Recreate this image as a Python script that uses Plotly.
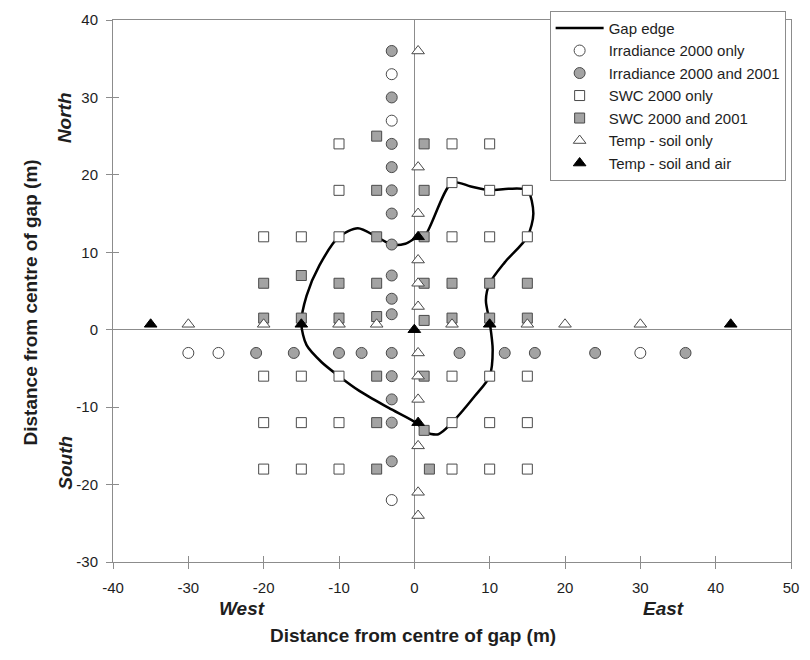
import plotly.graph_objects as go

# Gap edge outline (closed loop)
gap_x = [-15, -14.3, -12.6, -10, -7.5, -5, -3, -1.2, 0.5, 1.3, 5, 7.5, 10, 12.5, 15, 15.8,
         15, 12, 10, 9.5, 10, 10.4, 10, 8, 5, 3.2, 1.3, 0.5, -3.4, -7.3, -10, -12.3, -14.3, -15]
gap_y = [0.8, 4.4, 8.3, 12, 13.1, 12, 11, 11.1, 12, 12, 19, 18.5, 18, 18.2, 18, 15,
         12, 8.7, 6, 3.8, 1, -2.6, -6, -8.6, -12, -13.5, -13.2, -12.2, -10.1, -7.9, -6, -4.2, -2, 0.8]

# Irradiance sensors
irr_only_x = [-3, -3, -30, -26, 30, -3]
irr_only_y = [33, 27, -3, -3, -3, -22]
irr_both_x = [-3, -3, -3, -3, -3, -3, -3, -3, -3, -3,
              -21, -16, -10, -7, -3, 6, 12, 16, 24, 36,
              -3, -3, -3, -3]
irr_both_y = [36, 30, 24, 21, 18, 15, 11, 7, 4, 2,
              -3, -3, -3, -3, -3, -3, -3, -3, -3, -3,
              -6, -9, -12, -17]

# Soil water content sensors
swc_only_x = [-10, 5, 10,
              -10, 5, 10, 15,
              -20, -15, -10, 5, 10, 15,
              -20, -15, -10, 5, 10, 15,
              -20, -15, -10, 5, 10, 15,
              -20, -15, -10, 5, 10, 15]
swc_only_y = [24, 24, 24,
              18, 19, 18, 18,
              12, 12, 12, 12, 12, 12,
              -6, -6, -6, -6, -6, -6,
              -12, -12, -12, -12, -12, -12,
              -18, -18, -18, -18, -18, -18]
swc_both_x = [-5, 1.3,
              -5, 1.3,
              -5, 1.3,
              -15, -20, -10, -5, 1.3, 5, 10, 15,
              -20, -15, -10, -5, 1.3, 5, 10, 15,
              -5, 1.3,
              -5, 1.3,
              -5, 2]
swc_both_y = [25, 24,
              18, 18,
              12, 12,
              7, 6, 6, 6, 6, 6, 6, 6,
              1.5, 1.5, 1.5, 1.7, 1.2, 1.5, 1.5, 1.5,
              -6, -6,
              -12, -13,
              -18, -18]

# Temperature sensors
temp_soil_x = [-30, -20, -10, -5, 5, 15, 20, 30,
               0.5, 0.5, 0.5, 0.5, 0.5, 0.5, 0.5, 0.5, 0.5, 0.5, 0.5, 0.5]
temp_soil_y = [0.7, 0.7, 0.7, 0.7, 0.7, 0.7, 0.7, 0.7,
               36, 21, 15, 9, 6, 3, -3, -6, -9, -15, -21, -24]
temp_air_x = [-35, -15, 10, 42, 0, 0.5, 0.5]
temp_air_y = [0.7, 0.7, 0.7, 0.7, 0, 12, -12]

x_ticks = [-40, -30, -20, -10, 0, 10, 20, 30, 40, 50]
y_ticks = [-30, -20, -10, 0, 10, 20, 30, 40]
x_tick_text = [str(v) for v in x_ticks]
y_tick_text = [str(v) for v in y_ticks]

FONT = "Liberation Sans, Arial, sans-serif"
EDGE = "#4a4a4a"
GREY = "#a3a3a3"
AXIS = "#8c8c8c"
TXT = "#1e1e1e"

fig = go.Figure()

fig.add_trace(go.Scatter(x=gap_x, y=gap_y, mode="lines", name="Gap edge",
                         line=dict(color="black", width=2.5, shape="spline", smoothing=0.8)))

def marker_trace(x, y, name, symbol, fill, size):
    return go.Scatter(x=x, y=y, mode="markers", name=name,
                      marker=dict(symbol=symbol, size=size, color=fill,
                                  line=dict(color=EDGE if fill != "black" else "black", width=1)))

fig.add_trace(marker_trace(irr_only_x, irr_only_y, "Irradiance 2000 only", "circle", "white", 11))
fig.add_trace(marker_trace(irr_both_x, irr_both_y, "Irradiance 2000 and 2001", "circle", GREY, 11))
fig.add_trace(marker_trace(swc_only_x, swc_only_y, "SWC 2000 only", "square", "white", 10))
fig.add_trace(marker_trace(swc_both_x, swc_both_y, "SWC 2000 and 2001", "square", GREY, 10))
fig.add_trace(marker_trace(temp_soil_x, temp_soil_y, "Temp - soil only", "triangle-up", "white", 11))
fig.add_trace(marker_trace(temp_air_x, temp_air_y, "Temp - soil and air", "triangle-up", "black", 11))

# invisible trace carrying the inner half of the tick marks
fig.add_trace(go.Scatter(x=[0], y=[0], xaxis="x2", yaxis="y2", mode="markers",
                         marker=dict(opacity=0), showlegend=False, hoverinfo="skip"))

axis_common = dict(showgrid=False, zeroline=True, zerolinecolor=AXIS, zerolinewidth=1,
                   showline=True, linecolor=AXIS, linewidth=1, mirror=True,
                   ticks="outside", ticklen=6, tickcolor=AXIS, tickwidth=1,
                   tickfont=dict(family=FONT, size=15, color=TXT))

fig.update_layout(
    width=810, height=660,
    margin=dict(l=113, r=11, t=16, b=98),
    paper_bgcolor="white", plot_bgcolor="white",
    showlegend=True,
    xaxis=dict(range=[-40, 50], tickvals=x_ticks, ticktext=x_tick_text,
               ticklabelstandoff=6, **axis_common),
    yaxis=dict(range=[-30, 40], tickvals=y_ticks, ticktext=y_tick_text,
               ticklabelstandoff=5, **axis_common),
    xaxis2=dict(range=[-40, 50], overlaying="x", tickvals=x_ticks, ticks="inside",
                ticklen=6, tickcolor=AXIS, showticklabels=False, showgrid=False,
                zeroline=False, showline=False),
    yaxis2=dict(range=[-30, 40], overlaying="y", tickvals=y_ticks, ticks="inside",
                ticklen=6, tickcolor=AXIS, showticklabels=False, showgrid=False,
                zeroline=False, showline=False),
    legend=dict(x=0.644, y=1.017, xanchor="left", yanchor="top", itemwidth=48,
                bgcolor="white", bordercolor=AXIS, borderwidth=1,
                font=dict(family=FONT, size=15, color=TXT)),
)

title_font = dict(family=FONT, size=19, color=TXT)
annotations = [
    dict(text="<b>Distance from centre of gap (m)</b>", x=0.442, y=-0.159, xref="paper", yref="paper",
         showarrow=False, font=title_font),
    dict(text="<b>Distance from centre of gap (m)</b>", x=-0.14, y=0.478, xref="paper", yref="paper",
         showarrow=False, textangle=-90, font=title_font),
    dict(text="<b><i>North</i></b>", x=-0.089, y=0.87, xref="paper", yref="paper",
         showarrow=False, textangle=-90, font=title_font),
    dict(text="<b><i>South</i></b>", x=-0.089, y=0.13, xref="paper", yref="paper",
         showarrow=False, textangle=-90, font=title_font),
    dict(text="<b><i>West</i></b>", x=0.154, y=-0.108, xref="paper", yref="paper",
         showarrow=False, font=title_font),
    dict(text="<b><i>East</i></b>", x=0.845, y=-0.108, xref="paper", yref="paper",
         showarrow=False, font=title_font),
]
fig.update_layout(annotations=annotations)

fig.write_html("out.html")
